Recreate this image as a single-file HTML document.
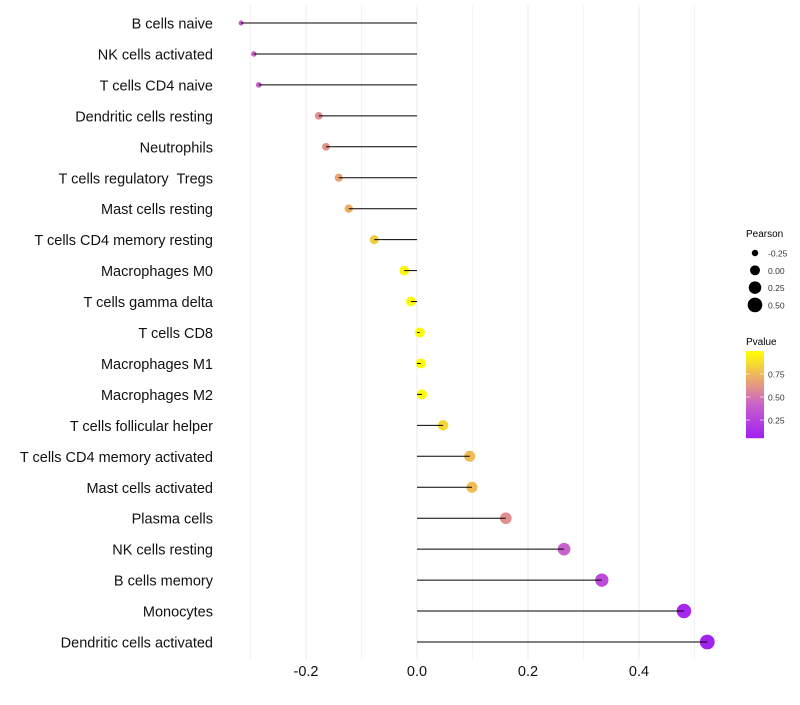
<!DOCTYPE html>
<html><head><meta charset="utf-8"><style>
body{margin:0;background:#fff;font-family:"Liberation Sans",sans-serif}
text{white-space:pre}
</style></head><body>
<svg id="c" width="800" height="700" xmlns="http://www.w3.org/2000/svg"></svg>
<script>
const categories=["B cells naive","NK cells activated","T cells CD4 naive","Dendritic cells resting","Neutrophils","T cells regulatory  Tregs","Mast cells resting","T cells CD4 memory resting","Macrophages M0","T cells gamma delta","T cells CD8","Macrophages M1","Macrophages M2","T cells follicular helper","T cells CD4 memory activated","Mast cells activated","Plasma cells","NK cells resting","B cells memory","Monocytes","Dendritic cells activated"];
const pearson=[-0.317,-0.294,-0.285,-0.177,-0.164,-0.141,-0.123,-0.077,-0.023,-0.011,0.005,0.007,0.009,0.047,0.095,0.099,0.160,0.265,0.333,0.481,0.523];
const pvalue=[0.38,0.42,0.42,0.6,0.62,0.68,0.72,0.82,0.96,0.98,0.99,0.99,0.99,0.86,0.76,0.76,0.6,0.42,0.3,0.1,0.07];
const xTicks=[-0.2,0,0.2,0.4];
const xTickLabels=["-0.2","0.0","0.2","0.4"];
const sizeLegend=[-0.25,0,0.25,0.5];
const sizeLegendLabels=["-0.25","0.00","0.25","0.50"];
const colorLegend=[0.75,0.5,0.25];

const NS="http://www.w3.org/2000/svg",svg=document.getElementById('c');
function X(v){return 417+v*555;}
function Y(i){return 23+i*30.95;}
function R(v){return Math.sqrt(Math.max(2.5,24.7+58*v));}
function pY(p){return 351+(1-p)/(1-0.055)*87;}
function lerp(a,b,t){return a.map((x,i)=>Math.round(x+(b[i]-x)*t));}
function col(p){const t=Math.max(0,Math.min(1,(p-0.055)/(1-0.055)));
 const s=[[160,32,240],[200,95,205],[228,148,135],[255,255,0]],st=[0,0.38,0.6,1];
 for(let k=0;k<3;k++){if(t<=st[k+1]){const c=lerp(s[k],s[k+1],(t-st[k])/(st[k+1]-st[k]));return `rgb(${c})`;}}return 'rgb(255,255,0)';}
function el(t,a,p){const e=document.createElementNS(NS,t);for(const k in a)e.setAttribute(k,a[k]);(p||svg).appendChild(e);return e;}
for(let g=-0.3;g<=0.55;g+=0.1){const major=Math.abs(Math.round(g*10))%2===0;
 const e=el('line',{x1:X(g),x2:X(g),y1:5,y2:660,stroke:major?'#ebebeb':'#f3f3f3','stroke-width':1});

}
xTicks.forEach((v,i)=>{const t=el('text',{x:X(v),y:676,'font-size':14.5,'text-anchor':'middle',fill:'#111'});t.textContent=xTickLabels[i];

});
categories.forEach((c,i)=>{
 const t=el('text',{x:213,y:Y(i)+5.5,'font-size':14.5,'text-anchor':'end',fill:'#111'});t.textContent=c;
 
 
 const d=el('circle',{cx:X(pearson[i]),cy:Y(i),r:R(pearson[i]),fill:col(pvalue[i])});
 
 
 const l=el('line',{x1:X(0),x2:X(pearson[i]),y1:Y(i),y2:Y(i),stroke:'#000','stroke-width':1});
 
 
});
let t=el('text',{x:746,y:237,'font-size':10,fill:'#000'});t.textContent='Pearson';


sizeLegend.forEach((v,i)=>{const y=253+i*17.3;
 const c=el('circle',{cx:755,cy:y,r:R(v),fill:'#000'});
 
 
 const s=el('text',{x:768,y:y+3.5,'font-size':8.5,fill:'#333'});s.textContent=sizeLegendLabels[i];
 
 });
t=el('text',{x:746,y:345,'font-size':10,fill:'#000'});t.textContent='Pvalue';


for(let y=351;y<438;y++){const r=el('rect',{x:746,y:y,width:18,height:1.2,fill:col(1-(y-351)/87*(1-0.055))});

}
colorLegend.forEach(v=>{const y=pY(v);
 const s=el('text',{x:768,y:y+3.5,'font-size':8.5,fill:'#333'});s.textContent=v.toFixed(2);
 
 
 el('line',{x1:746,x2:750,y1:y,y2:y,stroke:'#fff','stroke-width':0.6});el('line',{x1:760,x2:764,y1:y,y2:y,stroke:'#fff','stroke-width':0.6});});
</script>
</body></html>
